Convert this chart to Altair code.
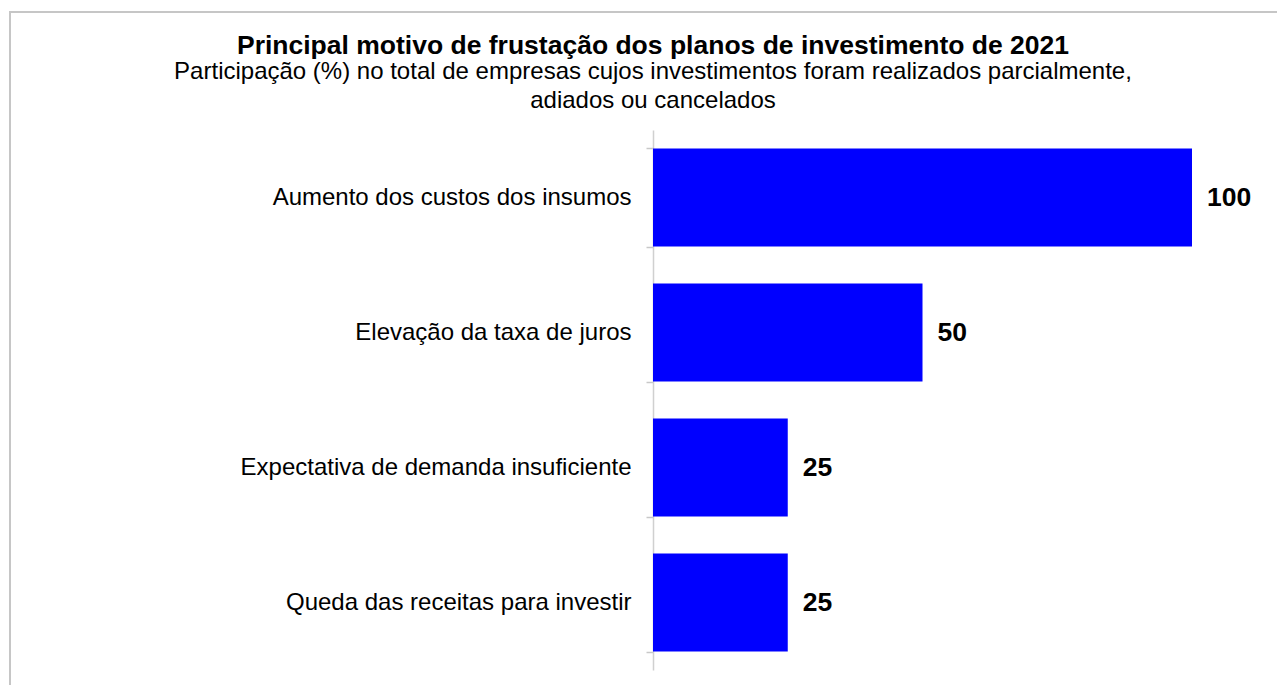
import altair as alt
import pandas as pd

categories = [
    "Aumento dos custos dos insumos",
    "Elevação da taxa de juros",
    "Expectativa de demanda insuficiente",
    "Queda das receitas para investir",
]
values = [100, 50, 25, 25]

title_text = "Principal motivo de frustação dos planos de investimento de 2021"
subtitle_lines = [
    "Participação (%) no total de empresas cujos investimentos foram realizados parcialmente,",
    "adiados ou cancelados",
]

df = pd.DataFrame({"motivo": categories, "valor": values})

FONT = "Liberation Sans"

y_enc = alt.Y(
    "motivo:N",
    sort=categories,
    title=None,
    scale=alt.Scale(paddingInner=0.274, paddingOuter=0.137),
    axis=alt.Axis(
        domainColor="#d0d0d0",
        domainWidth=1.5,
        tickColor="#c8c8c8",
        tickWidth=1.5,
        tickSize=7,
        tickBand="extent",
        labelPadding=15,
        labelFont=FONT,
        labelFontSize=24,
        labelColor="#000000",
        labelLimit=600,
    ),
)
x_enc = alt.X("valor:Q", scale=alt.Scale(domain=[0, 100]), axis=None)

bars = alt.Chart(df).mark_bar(color="#0000FF").encode(x=x_enc, y=y_enc)

labels = alt.Chart(df).mark_text(
    align="left", baseline="middle", dx=15, dy=0,
    font=FONT, fontSize=26.5, fontWeight="bold", color="#000000",
).encode(x=x_enc, y=alt.Y("motivo:N", sort=categories), text="valor:Q")

frame = alt.Chart(df).mark_rect(
    fill=None, fillOpacity=0, stroke="#c6c6c6", strokeWidth=2, clip=False
).encode(
    x=alt.value(-643), x2=alt.value(700), y=alt.value(-118), y2=alt.value(620)
).transform_filter(alt.datum.valor == 100)

chart = alt.layer(frame, bars, labels).properties(
    width=539,
    height=540,
    padding={"left": 645, "top": 122, "right": 85, "bottom": 15},
    autosize=alt.AutoSizeParams(type="none"),
    title=alt.TitleParams(
        text=title_text,
        subtitle=subtitle_lines,
        anchor="start",
        frame="group",
        align="center",
        font=FONT,
        fontSize=26.5,
        fontWeight="bold",
        color="#000000",
        subtitleFont=FONT,
        subtitleFontSize=24,
        subtitleColor="#000000",
        subtitleLineHeight=29.5,
        subtitlePadding=0,
        offset=-102,
    ),
).configure(background="#ffffff").configure_view(strokeWidth=0, stroke="transparent")

chart.save("out.html", embed_options={"renderer": "svg", "actions": False})
